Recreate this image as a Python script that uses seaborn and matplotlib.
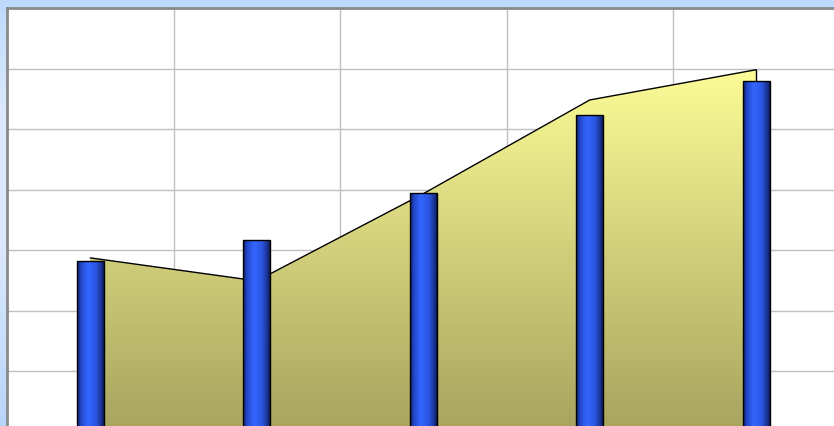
import numpy as np
import pandas as pd
import seaborn as sns
import matplotlib.pyplot as plt
from matplotlib.colors import LinearSegmentedColormap
from matplotlib.patches import Polygon

# -----------------
# Data
# -----------------
categories = ["1", "2", "3", "4", "5"]
bar_values = [28.2, 31.6, 39.4, 52.3, 57.9]
area_values = [28.7, 24.9, 39.3, 54.8, 59.8]

df = pd.DataFrame({"category": categories, "bar": bar_values, "area": area_values})

# -----------------
# Figure
# -----------------
sns.set_theme(style="white")
W, H = 834, 426
fig = plt.figure(figsize=(W / 100, H / 100), dpi=100)

# light blue frame background
bg = fig.add_axes([0, 0, 1, 1], zorder=-10)
bg_cmap = LinearSegmentedColormap.from_list(
    "bg", [(0.0, "#b9d5fa"), (0.45, "#ddeafd"), (0.75, "#dae9fd"), (1.0, "#bddafc")]
)
bg.imshow(np.linspace(1, 0, 256).reshape(-1, 1), aspect="auto", cmap=bg_cmap,
          extent=[0, 1, 0, 1])
bg.set_axis_off()

# plot area: left edge at 7px, top at 8px, runs past the right/bottom edge
left, top_px, bottom_px = 7, 8, 431.5
ax = fig.add_axes([left / W, (H - bottom_px) / H, (W - left) / W, (bottom_px - top_px) / H])
ax.set_facecolor("white")

# bars
sns.barplot(data=df, x="category", y="bar", width=0.162, ax=ax, zorder=3)

# area with vertical gradient behind the bars
xs = np.arange(len(categories))
verts = [(xs[0], 0)] + list(zip(xs, df["area"])) + [(xs[-1], 0)]
poly = Polygon(verts, closed=True, facecolor="none", edgecolor="none", zorder=2)
ax.add_patch(poly)
area_cmap = LinearSegmentedColormap.from_list("area", ["#a8a35f", "#ffff99"])
grad = np.linspace(0, 1, 256).reshape(-1, 1)
img = ax.imshow(grad, aspect="auto", cmap=area_cmap, origin="lower",
                extent=[xs[0], xs[-1], 0, 62], zorder=2)
img.set_clip_path(poly)
ax.plot(xs, df["area"], color="black", lw=1, zorder=2.5)
ax.plot([xs[-1], xs[-1]], [0, df["area"].iloc[-1]], color="black", lw=1, zorder=2.5)

# cylinder look for the bars
bar_cmap = LinearSegmentedColormap.from_list(
    "bar", [(0.0, "#0f1f66"), (0.15, "#2447c8"), (0.4, "#3366ff"),
            (0.7, "#2b56e4"), (0.9, "#1b3493"), (1.0, "#0e1c58")]
)
hgrad = np.linspace(0, 1, 256).reshape(1, -1)
for p in ax.patches:
    if p is poly:
        continue
    x0, y0 = p.get_x(), p.get_y()
    w, h = p.get_width(), p.get_height()
    p.set_facecolor("none")
    p.set_edgecolor("black")
    p.set_linewidth(1)
    p.set_zorder(4)
    bi = ax.imshow(hgrad, aspect="auto", cmap=bar_cmap,
                   extent=[x0, x0 + w, y0, y0 + h], zorder=3.5)
    bi.set_clip_path(p)

ax.set_yticks(np.arange(0, 71, 10))
ax.set_xticks(np.arange(-0.5, 4, 1.0))
ax.set_xlim(-0.5, -0.5 + (W - left) / 166.5)
ax.set_ylim(0, 70)
ax.grid(True, color="#c0c0c0", lw=1, zorder=0)
ax.set_axisbelow(True)
ax.tick_params(length=0, labelleft=False, labelbottom=False)
ax.set_xlabel("")
ax.set_ylabel("")
for side in ["right", "bottom"]:
    ax.spines[side].set_visible(False)
for side in ["top", "left"]:
    ax.spines[side].set_color("#8a8a8a")
    ax.spines[side].set_linewidth(2)

fig.savefig("out.png", dpi=100)
